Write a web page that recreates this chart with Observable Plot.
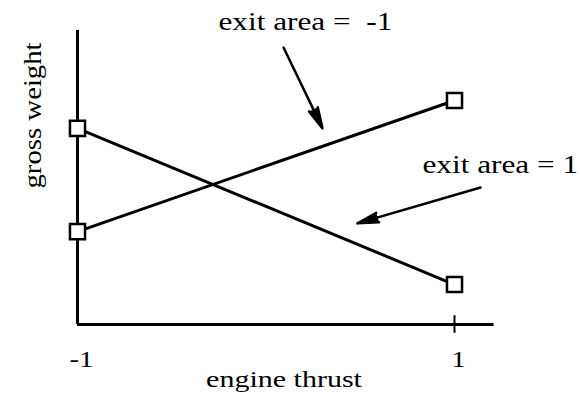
<!DOCTYPE html>
<html><head><meta charset="utf-8">
<script src="https://cdn.jsdelivr.net/npm/d3@7"></script>
<script src="https://cdn.jsdelivr.net/npm/@observablehq/plot@0.6"></script>
<style>html,body{margin:0;padding:0;background:#fff}</style>
</head><body><div id="chart"></div>
<script>
// Data (gross weight in arbitrary units, 0..100 along the y axis)
const engineThrust = [-1, 1];
const weightExitAreaMinus1 = [31.6, 76.2];
const weightExitAreaPlus1 = [66.7, 13.6];
const seriesNames = ["exit area = \u00a0-1", "exit area = 1"];
const tickValues = [-1, 1];
const tickLabels = ["-1", "1"];
const xLabel = "engine thrust";
const yLabel = "gross weight";

// Annotation anchors (label start + arrow from/to), in data units
const labelX = [-0.252, 0.83];
const labelY = [100.3, 51.7];
const arrowFromX = [0.093, 1.138];
const arrowFromY = [94.2, 46.6];
const arrowToX = [0.300, 0.485];
const arrowToY = [66.7, 34.4];

const rows = [];
engineThrust.forEach((t, i) => {
  rows.push({series: seriesNames[0], thrust: t, weight: weightExitAreaMinus1[i]});
  rows.push({series: seriesNames[1], thrust: t, weight: weightExitAreaPlus1[i]});
});
const labels = seriesNames.map((s, i) => ({text: s, x: labelX[i], y: labelY[i]}));
const arrows = seriesNames.map((s, i) => ({x1: arrowFromX[i], y1: arrowFromY[i], x2: arrowToX[i], y2: arrowToY[i]}));
const ticks = tickValues.map((v, i) => ({v, label: tickLabels[i]}));
const font = "Liberation Serif, Times New Roman, serif";

const chart = Plot.plot({
  width: 580, height: 397,
  marginLeft: 77, marginRight: 126, marginTop: 30, marginBottom: 73,
  x: {domain: [-1, 1], axis: null},
  y: {domain: [0, 100], axis: null},
  style: {fontFamily: font, background: "white", color: "black"},
  marks: [
    Plot.ruleY([0], {x1: -1, x2: 1.21, stroke: "black", strokeWidth: 3}),
    Plot.ruleX([-1], {y1: 0, y2: 100, stroke: "black", strokeWidth: 3}),
    Plot.ruleX([tickValues[1]], {y1: -3, y2: 3, stroke: "black", strokeWidth: 2}),
    Plot.line(rows, {x: "thrust", y: "weight", z: "series", stroke: "black", strokeWidth: 3}),
    Plot.dot(rows, {x: "thrust", y: "weight", symbol: "square", r: 8.5, fill: "white", stroke: "black", strokeWidth: 2.5}),
    Plot.arrow(arrows, {x1: "x1", y1: "y1", x2: "x2", y2: "y2", stroke: "black", fill: "black", strokeWidth: 2.5, headLength: 13, headAngle: 26}),
    Plot.text(labels, {x: "x", y: "y", text: "text", textAnchor: "start", lineAnchor: "bottom", fontSize: 25, fill: "black"}),
    Plot.text(ticks, {x: "v", y: 0, text: "label", dy: 42, dx: 4, lineAnchor: "bottom", fontSize: 23, fill: "black"}),
    Plot.text([xLabel], {frameAnchor: "bottom", dx: 18, dy: 62, lineAnchor: "bottom", fontSize: 24, fill: "black"}),
    Plot.text([yLabel], {frameAnchor: "left", dx: -45, dy: 11, rotate: -90, lineAnchor: "middle", fontSize: 25, fill: "black"})
  ]
});
document.getElementById("chart").appendChild(chart);

// The scanned original's lettering is wider than Times: stretch the texts along their length.
chart.querySelectorAll("text").forEach(t => {
  const factor = t.textContent === yLabel ? 1.15 : 1.25;
  const len = t.getComputedTextLength();
  t.setAttribute("textLength", (len * factor).toFixed(1));
  t.setAttribute("lengthAdjust", "spacingAndGlyphs");
});
</script>
</body></html>
